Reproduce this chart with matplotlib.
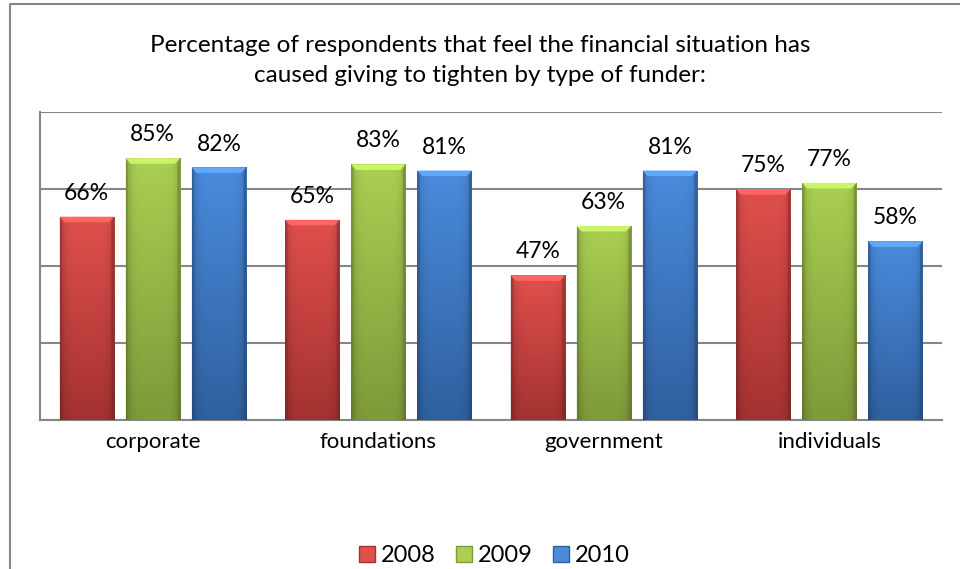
import numpy as np
import matplotlib
matplotlib.use('Agg')
import matplotlib.pyplot as plt
from matplotlib.patches import Polygon, Rectangle
from matplotlib.lines import Line2D
import matplotlib.colors as mcolors

plt.rcParams['font.family'] = ['Lato', 'DejaVu Sans']

categories = ['corporate', 'foundations', 'government', 'individuals']
years = ['2008', '2009', '2010']
v2008 = [66, 65, 47, 75]
v2009 = [85, 83, 63, 77]
v2010 = [82, 81, 81, 58]
series = [v2008, v2009, v2010]

# (top colour, bottom colour) per series
colors = [('#E0504D', '#A33230'), ('#AACF52', '#7E9A3A'), ('#4A8BDC', '#2F609F')]

fig = plt.figure(figsize=(9.6, 5.69), dpi=100)
ax = fig.add_axes([40/960, 1 - 420/569, 902/960, 308/569])

x = np.arange(len(categories))
width = 0.24
step = 0.293


def shade_bar(ax, patch, c_top, c_bot):
    x0, y0 = patch.get_x(), patch.get_y()
    w, h = patch.get_width(), patch.get_height()
    top = np.array(mcolors.to_rgb(c_top))
    bot = np.array(mcolors.to_rgb(c_bot))
    ny, nx = 100, 60
    t = np.linspace(0, 1, ny)[:, None, None]
    vert = top * (1 - t) + bot * t
    u = np.linspace(-1, 1, nx)
    horiz = 1 - 0.22 * np.abs(u) ** 6
    img = vert * horiz[None, :, None]
    im = ax.imshow(np.clip(img, 0, 1), extent=[x0, x0 + w, y0, y0 + h],
                   origin='upper', aspect='auto', zorder=3, interpolation='bilinear')
    im.set_clip_path(patch)
    # bevel on top
    bh = 1.8
    bw = w * 0.09
    lite = np.clip(top * 1.12 + 0.05, 0, 1)
    ax.add_patch(Polygon([[x0, y0 + h], [x0 + w, y0 + h], [x0 + w - bw, y0 + h - bh],
                          [x0 + bw, y0 + h - bh]], closed=True, facecolor=lite,
                         edgecolor='none', zorder=4))
    # darker side edges
    dark = bot * 0.8
    ax.add_patch(Polygon([[x0, y0], [x0 + bw * 0.5, y0], [x0 + bw * 0.5, y0 + h - bh],
                          [x0, y0 + h]], closed=True, facecolor=dark, alpha=0.35,
                         edgecolor='none', zorder=4))
    ax.add_patch(Polygon([[x0 + w, y0], [x0 + w - bw * 0.5, y0], [x0 + w - bw * 0.5, y0 + h - bh],
                          [x0 + w, y0 + h]], closed=True, facecolor=dark, alpha=0.5,
                         edgecolor='none', zorder=4))


for i, vals in enumerate(series):
    bars = ax.bar(x + (i - 1) * step, vals, width, color=colors[i][0],
                  edgecolor='none', zorder=2, label=years[i])
    for b, v in zip(bars, vals):
        shade_bar(ax, b, *colors[i])
        ax.text(b.get_x() + b.get_width() / 2, v + 7.6, f'{v}%', ha='center',
                va='center', fontsize=16.5, color='black', zorder=5)

ax.set_xlim(-0.5, 3.5)
ax.set_ylim(0, 100)
ax.set_yticks([0, 25, 50, 75, 100])
ax.set_yticklabels([])
ax.tick_params(axis='y', length=0)
ax.tick_params(axis='x', length=0, pad=9, labelsize=16)
ax.set_xticks(x)
ax.set_xticklabels(categories)
ax.grid(axis='y', color='#868686', linewidth=1.5, zorder=0)
ax.set_axisbelow(True)
for s in ['top', 'right']:
    ax.spines[s].set_visible(False)
ax.spines['left'].set_color('#868686')
ax.spines['left'].set_linewidth(1.5)
ax.spines['bottom'].set_color('#868686')
ax.spines['bottom'].set_linewidth(1.5)

fig.text(0.5, 1 - 46/569, 'Percentage of respondents that feel the financial situation has',
         ha='center', va='center', fontsize=17.5)
fig.text(0.5, 1 - 75/569, 'caused giving to tighten by type of funder:',
         ha='center', va='center', fontsize=17.5)

# outer chart frame (left and top visible)
fig.add_artist(Line2D([10/960, 10/960, 1.0], [0, 1 - 4/569, 1 - 4/569],
                      transform=fig.transFigure, color='#868686', linewidth=1.5))

handles = [Rectangle((0, 0), 1, 1, facecolor=c[0], edgecolor=c[1], linewidth=1) for c in colors]
fig.legend(handles, years, loc='center', bbox_to_anchor=(0.515, 1 - 556/569), ncol=3,
           frameon=False, fontsize=17, handlelength=0.68, handleheight=0.68,
           handletextpad=0.25, columnspacing=0.85, borderpad=0.2)

fig.savefig('out.png', dpi=100)
